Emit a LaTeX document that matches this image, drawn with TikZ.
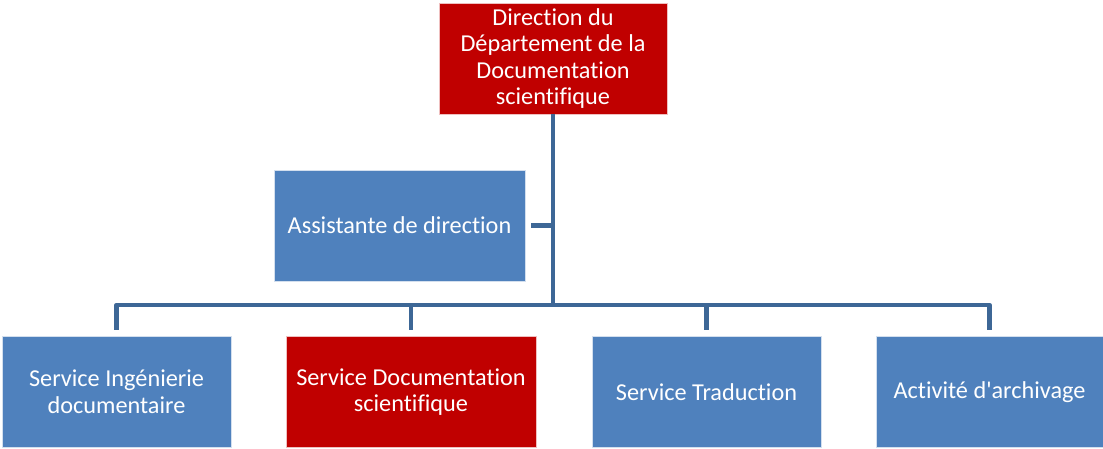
\documentclass[tikz,border=0pt]{standalone}
\usepackage{fontspec}
\setmainfont{Carlito}[Ligatures={TeXOff,NoCommon}]
\usetikzlibrary{calc}
\usetikzlibrary{positioning}
\definecolor{redbox}{RGB}{192,0,0}
\definecolor{bluebox}{RGB}{79,129,189}
\definecolor{linkblue}{RGB}{61,103,150}

\begin{document}
\begin{tikzpicture}[x=0.75pt,y=-0.75pt,
box/.style={draw=white!75!bluebox,line width=0.6pt,fill=bluebox,text=white,align=center,
  inner sep=0pt,minimum height=83.25pt,font=\fontsize{18.2}{19.9}\selectfont},
red box/.style={box,fill=redbox,draw=white!75!redbox},
link/.style={draw=linkblue,line width=3.4pt,line join=round}]

\useasboundingbox (0,0) rectangle (1103,449);

\node[red box,minimum width=171pt] (dir) at (553,58.5)
  {Direction du\\D\'epartement de la\\Documentation\\scientifique};
\node[box,minimum width=188.25pt] (asst) at (399.5,225.5) {Assistante de direction};

\node[box,minimum width=171.75pt] (ing) at (116.5,392) {Service Ing\'enierie\\documentaire};
\node[red box,minimum width=187.5pt] (doc) at (411,392) {Service Documentation\\scientifique};
\node[box,minimum width=171.75pt] (trad) at (706.5,392) {Service Traduction};
\node[box,minimum width=170.25pt] (arch) at (989.5,392) {Activit\'e d'archivage};

\coordinate (bar) at (553,305);

\draw[link] (dir.south) -- (bar);
\draw[link,shorten >=4.5pt] (dir.south |- asst.east) -- (asst.east);
\draw[link,shorten >=4.5pt] (bar) -| (ing.north);
\draw[link,shorten >=4.5pt] (bar) -| (doc.north);
\draw[link,shorten >=4.5pt] (bar) -| (trad.north);
\draw[link,shorten >=4.5pt] (bar) -| (arch.north);
\end{tikzpicture}
\end{document}
